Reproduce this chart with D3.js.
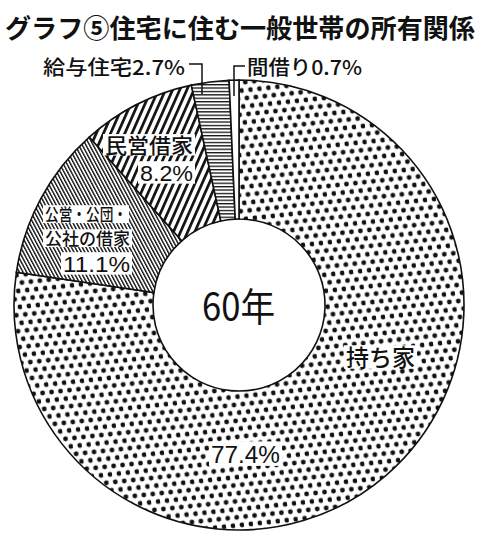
<!DOCTYPE html>
<html>
<meta charset="utf-8">
<head>
<style>
  body { margin: 0; background: #fff; }
  svg text { font-family: "Noto Sans CJK JP", "Noto Sans", sans-serif; fill: #111; }
  svg text.num { font-family: "Liberation Sans", "DejaVu Sans", sans-serif; }
</style>
</head>
<body>
<script src="https://d3js.org/d3.v7.min.js"></script>
<script>
  // data
  var categories = ["持ち家", "公営・公団・公社の借家", "民営借家", "給与住宅", "間借り"];
  var shares = [77.4, 11.1, 8.2, 2.7, 0.7];
  var shareLabels = ["77.4%", "11.1%", "8.2%", "2.7%", "0.7%"];
  var patterns = ["dots", "fine", "thick", "horiz", "plain"];
  var yearLabel = "60年";
  var title = "グラフ⑤住宅に住む一般世帯の所有関係";

  var width = 480, height = 540;
  var cx = 239, cy = 305, outerR = 225, innerR = 86;

  var svg = d3.select("body").append("svg")
    .attr("width", width)
    .attr("height", height);

  var defs = svg.append("defs");

  // dotted fill
  var pd = defs.append("pattern").attr("id", "dots")
    .attr("patternUnits", "userSpaceOnUse")
    .attr("width", 9).attr("height", 16)
    .attr("patternTransform", "rotate(-6)");
  pd.append("rect").attr("width", 9).attr("height", 16).attr("fill", "#fff");
  pd.append("circle").attr("cx", 2.5).attr("cy", 3).attr("r", 2.4).attr("fill", "#111");
  pd.append("circle").attr("cx", 7).attr("cy", 11).attr("r", 2.4).attr("fill", "#111");

  // fine hatching (\\)
  var pf = defs.append("pattern").attr("id", "fine")
    .attr("patternUnits", "userSpaceOnUse")
    .attr("width", 3.2).attr("height", 10)
    .attr("patternTransform", "rotate(-28)");
  pf.append("rect").attr("width", 3.2).attr("height", 10).attr("fill", "#fff");
  pf.append("rect").attr("x", 0).attr("width", 1.4).attr("height", 10).attr("fill", "#111");

  // thick hatching (//)
  var pt = defs.append("pattern").attr("id", "thick")
    .attr("patternUnits", "userSpaceOnUse")
    .attr("width", 6.5).attr("height", 10)
    .attr("patternTransform", "rotate(24)");
  pt.append("rect").attr("width", 6.5).attr("height", 10).attr("fill", "#fff");
  pt.append("rect").attr("x", 0).attr("width", 2.7).attr("height", 10).attr("fill", "#111");

  // horizontal lines
  var ph = defs.append("pattern").attr("id", "horiz")
    .attr("patternUnits", "userSpaceOnUse")
    .attr("width", 10).attr("height", 3.4);
  ph.append("rect").attr("width", 10).attr("height", 3.4).attr("fill", "#fff");
  ph.append("rect").attr("y", 0).attr("width", 10).attr("height", 1.3).attr("fill", "#111");

  var data = categories.map(function(c, i) {
    return {name: c, value: shares[i], label: shareLabels[i], pat: patterns[i]};
  });

  var pie = d3.pie().sort(null).value(function(d) { return d.value; });
  var arc = d3.arc().innerRadius(innerR).outerRadius(outerR);

  var g = svg.append("g").attr("transform", "translate(" + cx + "," + cy + ")");

  g.selectAll("path.slice")
    .data(pie(data))
    .enter().append("path")
    .attr("class", "slice")
    .attr("d", arc)
    .attr("fill", function(d) { return d.data.pat == "plain" ? "#fff" : "url(#" + d.data.pat + ")"; })
    .attr("stroke", "#111")
    .attr("stroke-width", 1.6);

  // title
  svg.append("text")
    .attr("x", 5).attr("y", 38)
    .attr("textLength", 470).attr("lengthAdjust", "spacingAndGlyphs")
    .style("font-size", "26px")
    .style("font-weight", "bold")
    .text(title);

  // center label
  g.append("text")
    .attr("x", -37).attr("y", 16)
    .attr("textLength", 73).attr("lengthAdjust", "spacingAndGlyphs")
    .style("font-size", "39px")
    .text(yearLabel);

  // label text stretched to the width seen in the scan
  function label(x, y, str, size, len, boxed, cls) {
    var t = svg.append("text")
      .attr("class", cls || null)
      .attr("x", x).attr("y", y)
      .attr("textLength", len).attr("lengthAdjust", "spacingAndGlyphs")
      .style("font-size", size + "px")
      .style("font-weight", 500)
      .text(str);
    if (boxed) {
      svg.insert("rect", function() { return t.node(); })
        .attr("x", x - 2).attr("y", y - size * 0.9)
        .attr("width", len + 4).attr("height", size * 1.02)
        .attr("fill", "#fff");
    }
    return t;
  }

  // outer labels with leader lines
  svg.append("path")
    .attr("d", "M189,64H202V94")
    .attr("fill", "none").attr("stroke", "#111").attr("stroke-width", 1.5);
  svg.append("path")
    .attr("d", "M245,66H234V96")
    .attr("fill", "none").attr("stroke", "#111").attr("stroke-width", 1.5);
  label(43, 75, categories[3] + shareLabels[3], 20, 142, false);
  label(247, 75, categories[4] + shareLabels[4], 20, 115, false);

  // inner labels
  label(105, 153, categories[2], 21, 88, true);
  label(140, 181, shareLabels[2], 22, 53, true, "num");
  label(45, 221, "公営・公団・", 17.5, 82, true);
  label(45, 245, "公社の借家", 17.5, 85, true);
  label(63, 272, shareLabels[1], 22, 67, true, "num");
  label(346, 366, categories[0], 23, 69, true);
  label(211, 463, shareLabels[0], 24, 69, true, "num");
</script>
</body>
</html>
